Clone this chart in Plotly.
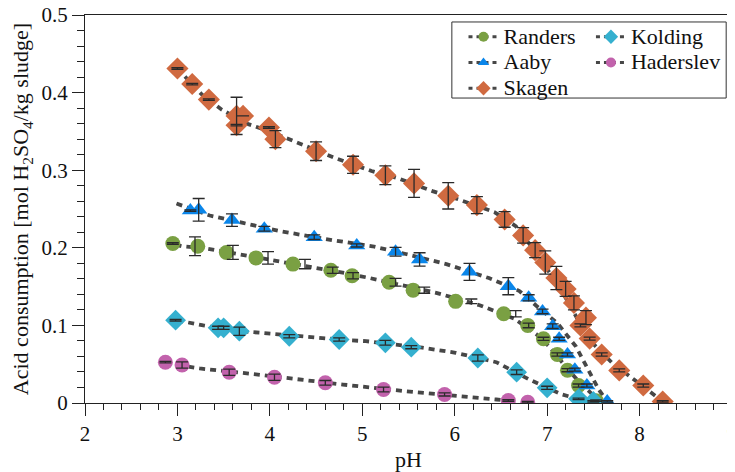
import plotly.graph_objects as go

# ---------------- data ----------------
randers_ph = [2.95, 3.22, 3.53, 3.85, 4.25, 4.66, 4.89, 5.29, 5.55, 6.01, 6.53, 6.79, 6.96, 7.11, 7.22, 7.34, 7.53]
randers_val = [0.2055, 0.202, 0.194, 0.187, 0.179, 0.171, 0.164, 0.1557, 0.1454, 0.131, 0.115, 0.100, 0.0827, 0.0625, 0.0423, 0.0225, 0.003]
randers_err_ph = [2.95, 3.19, 3.60, 3.98, 4.38, 4.68, 4.90, 5.36, 5.67, 6.18, 6.66, 6.80, 6.96, 7.11, 7.22, 7.34, 7.53]
randers_err = [0.001, 0.012, 0.009, 0.008, 0.006, 0.004, 0.004, 0.005, 0.004, 0.003, 0.004, 0.003, 0.002, 0.002, 0.002, 0.002, 0.001]

aaby_ph = [3.14, 3.23, 3.59, 3.94, 4.48, 4.94, 5.36, 5.62, 6.16, 6.58, 6.80, 6.95, 7.06, 7.13, 7.22, 7.30, 7.43, 7.65]
aaby_val = [0.248, 0.249, 0.2357, 0.2245, 0.2137, 0.203, 0.195, 0.185, 0.169, 0.1505, 0.1355, 0.118, 0.099, 0.0827, 0.0625, 0.043, 0.0225, 0.002]
aaby_err = [0.001, 0.0145, 0.008, 0.003, 0.003, 0.002, 0.0056, 0.0086, 0.011, 0.011, 0.004, 0.003, 0.003, 0.002, 0.002, 0.002, 0.002, 0.001]

skagen_ph = [3.0, 3.16, 3.34, 3.64, 3.71, 3.64, 3.99, 4.06, 4.50, 4.90, 5.25, 5.56, 5.93, 6.24, 6.54, 6.74,
             6.87, 6.98, 7.10, 7.20, 7.29, 7.42, 7.36, 7.46, 7.59, 7.78, 8.04, 8.25]
skagen_val = [0.431, 0.411, 0.391, 0.370, 0.370, 0.358, 0.355, 0.340, 0.3245, 0.307, 0.2935, 0.283, 0.267, 0.255, 0.2365, 0.216,
              0.197, 0.181, 0.161, 0.147, 0.129, 0.110, 0.100, 0.083, 0.0625, 0.042, 0.0225, 0.002]
skagen_err = [0.001, 0.001, 0.001, 0.024, 0.0, 0.001, 0.001, 0.011, 0.012, 0.011, 0.012, 0.018, 0.017, 0.011, 0.010, 0.010,
              0.0097, 0.015, 0.015, 0.0097, 0.009, 0.009, 0.002, 0.002, 0.002, 0.002, 0.002, 0.001]

kolding_ph = [2.98, 3.44, 3.50, 3.67, 4.21, 4.75, 5.25, 5.53, 6.25, 6.67, 7.00, 7.34, 7.50]
kolding_val = [0.1067, 0.0969, 0.0969, 0.0925, 0.086, 0.0818, 0.0776, 0.0719, 0.058, 0.0397, 0.0196, 0.0054, 0.002]
kolding_err = [0.001, 0.002, 0.002, 0.0054, 0.002, 0.002, 0.003, 0.002, 0.004, 0.003, 0.002, 0.001, 0.001]

haderslev_ph = [2.87, 3.05, 3.56, 4.05, 4.60, 5.23, 5.89, 6.58, 6.79]
haderslev_val = [0.0526, 0.049, 0.0397, 0.0332, 0.026, 0.0174, 0.011, 0.0032, 0.001]
haderslev_err = [0.001, 0.004, 0.004, 0.004, 0.003, 0.003, 0.002, 0.001, 0.001]

# fitted model curves
randers_fit_ph = [2.98, 3.05, 3.32, 3.66, 4.13, 4.54, 4.81, 5.08, 5.44, 5.80, 6.27, 6.64, 6.88, 7.02, 7.20, 7.34, 7.49, 7.56]
randers_fit_val = [0.204, 0.202, 0.199, 0.192, 0.182, 0.173, 0.1675, 0.161, 0.152, 0.142, 0.126, 0.1089, 0.089, 0.073, 0.047, 0.028, 0.011, 0.002]

aaby_fit_ph = [2.99, 3.35, 3.71, 4.13, 4.68, 5.11, 5.47, 5.91, 6.37, 6.70, 6.88, 7.11, 7.31, 7.43, 7.56, 7.65]
aaby_fit_val = [0.257, 0.2416, 0.232, 0.221, 0.2098, 0.202, 0.192, 0.179, 0.161, 0.1443, 0.1256, 0.103, 0.073, 0.045, 0.017, 0.002]

skagen_fit_ph = [3.0, 3.26, 3.48, 3.75, 4.0, 4.3, 4.7, 5.1, 5.4, 5.76, 6.05, 6.43, 6.66, 6.91, 7.16, 7.33, 7.51, 7.70, 7.92, 8.13, 8.25]
skagen_fit_val = [0.431, 0.398, 0.378, 0.360, 0.350, 0.335, 0.316, 0.299, 0.289, 0.273, 0.262, 0.246, 0.228, 0.189, 0.144, 0.108, 0.075, 0.052, 0.032, 0.014, 0.002]

kolding_fit_ph = [3.00, 3.10, 3.28, 3.60, 3.96, 4.50, 4.83, 5.04, 5.65, 6.01, 6.45, 6.81, 7.16, 7.40]
kolding_fit_val = [0.1065, 0.104, 0.0999, 0.0935, 0.0896, 0.084, 0.081, 0.0797, 0.0713, 0.0647, 0.0526, 0.030, 0.011, 0.003]

haderslev_fit_ph = [3.00, 3.10, 3.24, 3.70, 4.29, 4.79, 5.47, 6.12, 6.45, 6.64]
haderslev_fit_val = [0.049, 0.0474, 0.0445, 0.0389, 0.0303, 0.0238, 0.0151, 0.0088, 0.0045, 0.002]

x_ticks = [2, 3, 4, 5, 6, 7, 8, 9]
y_ticks = [0, 0.1, 0.2, 0.3, 0.4, 0.5]
y_tick_labels = ["0", "0.1", "0.2", "0.3", "0.4", "0.5"]

# ---------------- styles ----------------
FONT = "Liberation Serif"
LINE_COLOR = "#474747"
DASH = "6px,5px"

series = [
    dict(name="Randers", ph=randers_ph, val=randers_val, eph=randers_err_ph, err=randers_err,
         fph=randers_fit_ph, fval=randers_fit_val, color="#7aa043", symbol="circle", size=15, legend="legend"),
    dict(name="Aaby", ph=aaby_ph, val=aaby_val, eph=aaby_ph, err=aaby_err,
         fph=aaby_fit_ph, fval=aaby_fit_val, color="#0a86ea", symbol="triangle-up", size=15, legend="legend"),
    dict(name="Skagen", ph=skagen_ph, val=skagen_val, eph=skagen_ph, err=skagen_err,
         fph=skagen_fit_ph, fval=skagen_fit_val, color="#d06a40", symbol="diamond", size=17, legend="legend"),
    dict(name="Kolding", ph=kolding_ph, val=kolding_val, eph=kolding_ph, err=kolding_err,
         fph=kolding_fit_ph, fval=kolding_fit_val, color="#35b0cf", symbol="diamond", size=16, legend="legend2"),
    dict(name="Haderslev", ph=haderslev_ph, val=haderslev_val, eph=haderslev_ph, err=haderslev_err,
         fph=haderslev_fit_ph, fval=haderslev_fit_val, color="#c262ac", symbol="circle", size=15, legend="legend2"),
]

fig = go.Figure()

# fit curves
for s in series:
    fig.add_trace(go.Scatter(x=s["fph"], y=s["fval"], mode="lines",
                             line=dict(color=LINE_COLOR, width=3.8, dash=DASH),
                             showlegend=False, hoverinfo="skip"))
# markers
for s in series:
    fig.add_trace(go.Scatter(x=s["ph"], y=s["val"], mode="markers",
                             marker=dict(color=s["color"], symbol=s["symbol"], size=s["size"], line=dict(width=0)),
                             showlegend=False, name=s["name"]))
# error bars on top
for s in series:
    fig.add_trace(go.Scatter(x=s["eph"], y=s["val"][:len(s["eph"])], mode="markers",
                             marker=dict(size=1, opacity=0),
                             error_y=dict(type="data", array=s["err"], visible=True,
                                          color="#2a2a2a", thickness=1.3, width=6),
                             showlegend=False, hoverinfo="skip"))
# legend entries
for s in series:
    fig.add_trace(go.Scatter(x=[None], y=[None], mode="lines+markers",
                             name='<span style="font-size:22px">' + s["name"] + '</span>',
                             line=dict(color=LINE_COLOR, width=3, dash="4px,4px"),
                             marker=dict(color=s["color"], symbol=s["symbol"], size=10 if s["symbol"] != "diamond" else 11),
                             legend=s["legend"]))

axis_common = dict(showline=True, linecolor="#222", linewidth=1, mirror=True,
                   ticks="outside", ticklen=12, tickwidth=1, tickcolor="#222",
                   showgrid=False, zeroline=False, automargin=False, ticklabeloverflow="allow",
                   tickfont=dict(family=FONT, size=21, color="#111"),
                   title_font=dict(family=FONT, size=22, color="#111"))

fig.update_xaxes(range=[2, 9], tickvals=x_ticks, title_text="pH", title_standoff=6,
                 minor=dict(dtick=0.2, ticklen=6, tickcolor="#222", ticks="outside"),
                 **axis_common)
fig.update_yaxes(range=[0, 0.5], tickvals=y_ticks, ticktext=y_tick_labels,
                 title_text="Acid consumption [mol H<sub>2</sub>SO<sub>4</sub>/kg sludge]", title_standoff=10,
                 minor=dict(dtick=0.02, ticklen=7, tickcolor="#222", ticks="outside"),
                 **axis_common)

legend_common = dict(font=dict(family=FONT, size=17.5, color="#111"), bgcolor="rgba(255,255,255,0)",
                     borderwidth=0, xanchor="left", yanchor="top", tracegroupgap=0, itemsizing="trace")

# page body has an 8px margin: the figure is drawn at (8, 8) in the window
fig.update_layout(
    width=727, height=464,
    margin=dict(l=77, r=3, t=7, b=69),
    paper_bgcolor="white", plot_bgcolor="white",
    legend=dict(x=0.585, y=0.99, **legend_common),
    legend2=dict(x=0.782, y=0.99, **legend_common),
    shapes=[dict(type="rect", xref="paper", yref="paper", x0=0.567, x1=0.991, y0=0.786, y1=0.982,
                 line=dict(color="#333", width=1), fillcolor="rgba(0,0,0,0)")],
)

fig.write_html("out.html")
